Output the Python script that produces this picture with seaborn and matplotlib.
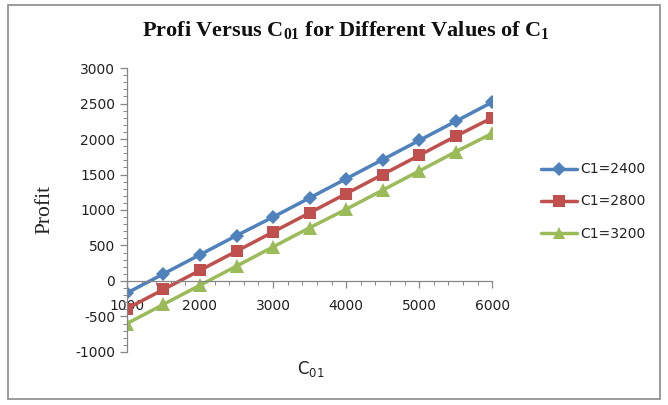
import numpy as np
import pandas as pd
import matplotlib
matplotlib.use("Agg")
import matplotlib.pyplot as plt
import seaborn as sns
from matplotlib.ticker import MultipleLocator
from matplotlib.patches import Rectangle

# values
c01 = [1000, 1500, 2000, 2500, 3000, 3500, 4000, 4500, 5000, 5500, 6000]
profit_2400 = [-170, 100, 370, 640, 900, 1170, 1440, 1710, 1980, 2250, 2520]
profit_2800 = [-390, -120, 150, 420, 690, 960, 1230, 1500, 1770, 2040, 2300]
profit_3200 = [-600, -330, -60, 210, 480, 750, 1010, 1280, 1550, 1820, 2080]
labels = ["C1=2400", "C1=2800", "C1=3200"]

df = pd.DataFrame({
    "C01": c01 * 3,
    "Profit": profit_2400 + profit_2800 + profit_3200,
    "series": [labels[0]] * len(c01) + [labels[1]] * len(c01) + [labels[2]] * len(c01),
})

sns.set_style("white")
plt.rcParams["font.family"] = ["DejaVu Sans"]
plt.rcParams["axes.unicode_minus"] = False

fig = plt.figure(figsize=(6.68, 4.05), dpi=100)
ax = fig.add_axes([0.190, 0.131, 0.547, 0.701])

palette = {labels[0]: "#4F81BD", labels[1]: "#C0504D", labels[2]: "#9BBB59"}
markers = {labels[0]: "D", labels[1]: "s", labels[2]: "^"}
msize = {labels[0]: 7.5, labels[1]: 9, labels[2]: 9.5}

sns.lineplot(data=df, x="C01", y="Profit", hue="series", style="series",
             palette=palette, markers=markers, dashes=False, linewidth=2.5,
             markersize=8, markeredgewidth=0, ax=ax, legend=True)

for line, lab in zip(ax.lines[:3], labels):
    line.set_markersize(msize[lab])

ax.set_xlim(1000, 6000)
ax.set_ylim(-1000, 3000)
ax.xaxis.set_major_locator(MultipleLocator(1000))
ax.xaxis.set_minor_locator(MultipleLocator(200))
ax.yaxis.set_major_locator(MultipleLocator(500))
ax.yaxis.set_minor_locator(MultipleLocator(100))

for s in ["top", "right"]:
    ax.spines[s].set_visible(False)
ax.spines["bottom"].set_position(("data", 0))
for s in ["left", "bottom"]:
    ax.spines[s].set_color("#868686")
    ax.spines[s].set_linewidth(0.9)

ax.tick_params(axis="both", which="both", left=True, bottom=True)
ax.tick_params(axis="both", which="major", direction="out", length=5, width=0.9,
               color="#868686", labelsize=10, labelcolor="#222222")
ax.tick_params(axis="both", which="minor", direction="out", length=3, width=0.7,
               color="#868686")
ax.tick_params(axis="x", which="major", pad=8)

ax.set_xlabel("")
ax.set_ylabel("")
fig.text(0.068, 0.484, "Profit", rotation=90, ha="center", va="center",
         fontsize=15.5, family=["Liberation Serif"], color="#222222")
fig.text(0.465, 0.09, r"C$\mathregular{_{01}}$", ha="center", va="center",
         fontsize=12, color="#222222")
fig.text(0.518, 0.925,
         r"Profi Versus C$\mathregular{_{01}}$ for Different Values of C$\mathregular{_{1}}$",
         ha="center", va="center", fontsize=16, fontweight="bold",
         family=["Liberation Serif"], color="#111111")

leg = ax.legend(loc="center left", bbox_to_anchor=(1.10, 0.53), frameon=False,
                fontsize=10, handlelength=2.6, labelspacing=1.3, handletextpad=0.2)
for t in leg.get_texts():
    t.set_color("#222222")
for h, lab in zip(leg.legend_handles, labels):
    h.set_markersize(msize[lab] - 0.5)

fig.patches.append(Rectangle((0.012, 0.015), 0.976, 0.972, transform=fig.transFigure,
                             fill=False, edgecolor="#8a8a8a", linewidth=1.2))

fig.savefig("out.png", dpi=100)
